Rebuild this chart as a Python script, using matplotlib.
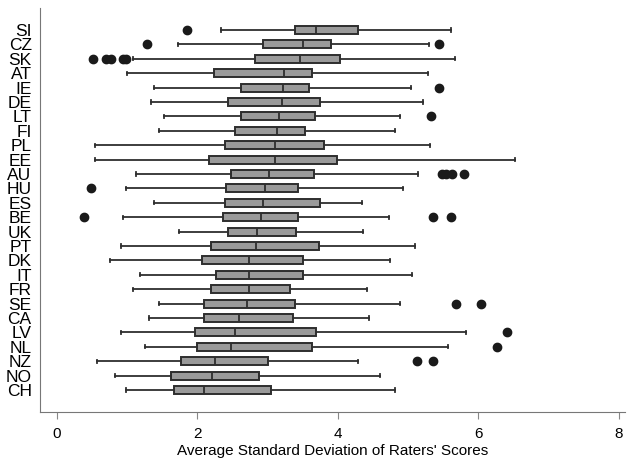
import matplotlib
matplotlib.use('Agg')
import matplotlib.pyplot as plt

# countries, top to bottom
countries = ['SI', 'CZ', 'SK', 'AT', 'IE', 'DE', 'LT', 'FI', 'PL', 'EE', 'AU', 'HU', 'ES',
             'BE', 'UK', 'PT', 'DK', 'IT', 'FR', 'SE', 'CA', 'LV', 'NL', 'NZ', 'NO', 'CH']
whislo = [2.34, 1.72, 1.09, 1.00, 1.39, 1.34, 1.53, 1.45, 0.55, 0.54, 1.13, 0.98, 1.38,
          0.94, 1.74, 0.91, 0.76, 1.18, 1.09, 1.45, 1.31, 0.92, 1.25, 0.57, 0.83, 0.98]
q1 = [3.39, 2.93, 2.82, 2.24, 2.62, 2.43, 2.62, 2.54, 2.39, 2.17, 2.48, 2.41, 2.40,
      2.37, 2.44, 2.19, 2.07, 2.26, 2.19, 2.10, 2.09, 1.96, 2.00, 1.77, 1.62, 1.67]
med = [3.69, 3.50, 3.46, 3.23, 3.22, 3.20, 3.16, 3.14, 3.11, 3.11, 3.02, 2.97, 2.94,
       2.90, 2.85, 2.83, 2.74, 2.74, 2.73, 2.71, 2.59, 2.54, 2.48, 2.25, 2.21, 2.09]
q3 = [4.29, 3.90, 4.03, 3.64, 3.59, 3.74, 3.67, 3.54, 3.80, 3.99, 3.66, 3.44, 3.75,
      3.43, 3.41, 3.73, 3.51, 3.50, 3.32, 3.39, 3.36, 3.69, 3.63, 3.00, 2.88, 3.05]
whishi = [5.61, 5.30, 5.67, 5.28, 5.04, 5.22, 4.89, 4.81, 5.31, 6.52, 5.14, 4.93, 4.35,
          4.73, 4.36, 5.10, 4.74, 5.05, 4.42, 4.89, 4.44, 5.82, 5.57, 4.29, 4.60, 4.81]
outliers = [[1.86], [1.29, 5.44], [0.51, 0.70, 0.77, 0.94, 0.98], [], [5.44], [], [5.33], [],
            [], [], [5.48, 5.54, 5.63, 5.80], [0.48], [],
            [0.38, 5.36, 5.61], [], [], [], [], [], [5.68, 6.04], [], [6.41], [6.27],
            [5.13, 5.35], [], []]

stats = []
for i, c in enumerate(countries):
    stats.append(dict(label=c, whislo=whislo[i], q1=q1[i], med=med[i], q3=q3[i],
                      whishi=whishi[i], fliers=outliers[i]))

plt.rcParams['font.family'] = ['Liberation Sans', 'DejaVu Sans']

fig = plt.figure(figsize=(6.27, 4.62), dpi=100)
ax = fig.add_axes([40/627, 50/462, 585/627, 404/462])

pos = list(range(len(countries)))
ax.bxp(stats, positions=pos, vert=False, widths=0.55, patch_artist=True,
       boxprops=dict(facecolor='#9a9a9a', edgecolor='#2e2e2e', lw=1.4),
       medianprops=dict(color='#2e2e2e', lw=1.3),
       whiskerprops=dict(color='#2e2e2e', lw=1.3),
       capprops=dict(color='#2e2e2e', lw=1.3),
       capwidths=0.22,
       flierprops=dict(marker='o', markerfacecolor='#1a1a1a', markeredgecolor='#1a1a1a',
                       markersize=6))

ax.set_ylim(len(countries) - 1 + 1.53, -1.53)
ax.set_xlim(-0.24, 8.09)
ax.set_xticks([0, 2, 4, 6, 8])
ax.tick_params(axis='x', labelsize=11, colors='#888888', labelcolor='black', length=5, pad=6)
ax.tick_params(axis='y', length=0, labelsize=12.5, pad=6)
ax.set_yticklabels(countries, fontstretch='condensed')
ax.set_xlabel("Average Standard Deviation of Raters' Scores", fontsize=11, labelpad=2)

for s in ['top', 'right']:
    ax.spines[s].set_visible(False)
ax.spines['left'].set_color('#777777')
ax.spines['bottom'].set_color('#777777')

fig.savefig('out.png', dpi=100, facecolor='white')
